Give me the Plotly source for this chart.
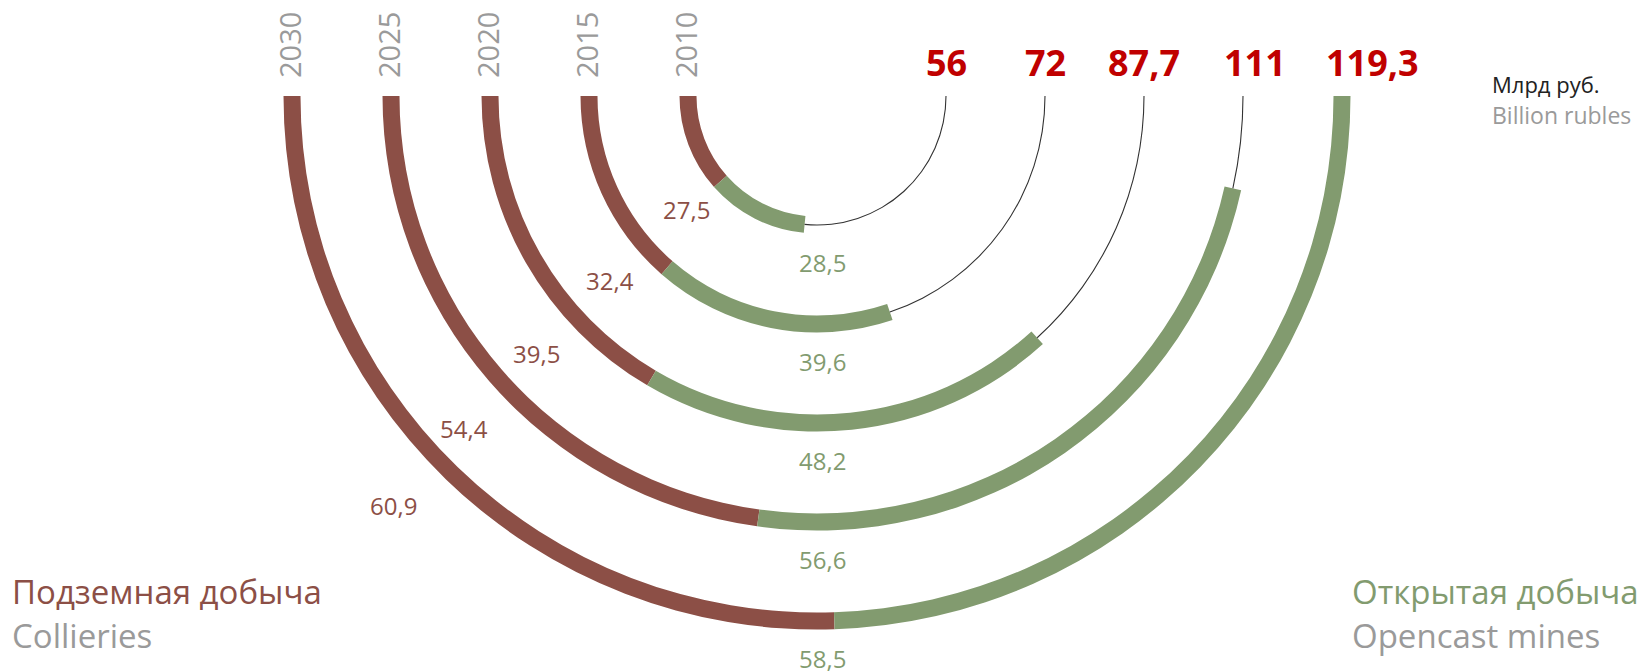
import math
import plotly.graph_objects as go

# data: coal mining output, billion rubles
YEARS = ['2010', '2015', '2020', '2025', '2030']
COLLIERIES = [27.5, 32.4, 39.5, 54.4, 60.9]
OPENCAST = [28.5, 39.6, 48.2, 56.6, 58.5]
TOTALS = [56, 72, 87.7, 111, 119.3]

BROWN = '#8C4F46'
GREEN = '#829B6F'
RED = '#C00000'
GREY = '#9A9A9A'
FONT = 'Open Sans'

W, H = 1646, 672
OFF = 8                   # page body margin, the figure starts 8px in
CX, CY = 817, 96          # centre of the half rings, screen px
RAD = H - (CY - OFF)      # radius of the polar area, px (radial units = px)
RING0, RING_STEP = 129, 99
THICK = 17


def ring_r(k):
    return RING0 + RING_STEP * k


def deg(v):
    # half circle = the biggest total
    return v / max(TOTALS) * 180.0


def px(x, y):
    return (x - OFF) / W, 1 - (y - OFF) / H


def polar_px(r, theta):
    return px(CX + r * math.cos(math.radians(theta)), CY - r * math.sin(math.radians(theta)))


def fmt(v):
    return f'{v:g}'.replace('.', ',')


def label(xy, text, size, color, **kw):
    d = dict(x=xy[0], y=xy[1], text=text, showarrow=False, xanchor='center', yanchor='middle',
             font=dict(size=size, color=color, family=FONT))
    d.update(kw)
    return d


fig = go.Figure()
ann = []
for k, year in enumerate(YEARS):
    r = ring_r(k)
    a_brown = deg(COLLIERIES[k])
    a_green = min(deg(OPENCAST[k]), 180 - a_brown)
    a_end = 180 + a_brown + a_green
    # brown part
    fig.add_trace(go.Barpolar(r=[THICK], base=[r - THICK / 2], theta=[180 + a_brown / 2], width=[a_brown],
                              marker=dict(color=BROWN, line=dict(width=0)), name=year, showlegend=False))
    # green part
    fig.add_trace(go.Barpolar(r=[THICK], base=[r - THICK / 2], theta=[180 + a_brown + a_green / 2],
                              width=[a_green], marker=dict(color=GREEN, line=dict(width=0)),
                              name=year, showlegend=False))
    # thin rest of the half circle
    if a_end < 360:
        fig.add_trace(go.Barpolar(r=[1.1], base=[r - 0.55], theta=[(a_end + 360) / 2], width=[360 - a_end],
                                  marker=dict(color='#333333', line=dict(width=0)), showlegend=False))

    ann.append(label(px(CX - r - 3, 45), year, 29, GREY, textangle=-90))
    shift = [0, 0, 0, 12, 30][k]
    ann.append(label(px(CX + r + shift, 62), '<b>%s</b>' % fmt(TOTALS[k]), 36, RED))
    gx, gy = polar_px(r + 37, 270)
    ann.append(label((gx + 5 / W, gy), fmt(OPENCAST[k]), 24, GREEN))
    ann.append(label(polar_px(r + 44 + 5 * k, 221 + 0.75 * k), fmt(COLLIERIES[k]), 24, BROWN))

ann += [
    label(px(1490, 84), 'Млрд руб.', 22, '#222222', xanchor='left'),
    label(px(1490, 115), 'Billion rubles', 23, GREY, xanchor='left'),
    label(px(10, 591), 'Подземная добыча', 33, BROWN, xanchor='left'),
    label(px(10, 635), 'Collieries', 33, GREY, xanchor='left'),
    label(px(1350, 591), 'Открытая добыча', 33, GREEN, xanchor='left'),
    label(px(1350, 635), 'Opencast mines', 33, GREY, xanchor='left'),
]

fig.update_layout(
    width=W, height=H,
    margin=dict(l=0, r=0, t=0, b=0),
    paper_bgcolor='white',
    showlegend=False,
    annotations=ann,
    polar=dict(
        domain=dict(x=[(CX - OFF - RAD) / W, (CX - OFF + RAD) / W], y=[0, 1 - (CY - OFF) / H]),
        sector=[180, 360],
        bgcolor='white',
        barmode='overlay',
        radialaxis=dict(visible=False, range=[0, RAD]),
        angularaxis=dict(visible=False, rotation=0, direction='counterclockwise', thetaunit='degrees'),
    ),
)

fig.write_html('out.html')
